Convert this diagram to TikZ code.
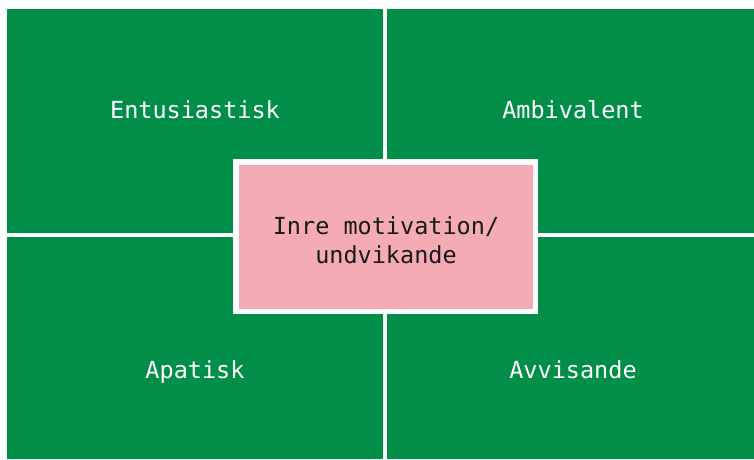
\documentclass[tikz,border=0pt]{standalone}
\usepackage{fontspec}
\setmainfont{DejaVu Sans Mono}
\definecolor{qgreen}{RGB}{0,142,72}
\definecolor{qpink}{RGB}{245,171,180}
\begin{document}
\begin{tikzpicture}[x=1pt,y=1pt,
  quad/.style={fill=qgreen,draw=none},
  qlabel/.style={text=white,font=\fontsize{23.5}{28.3}\selectfont,anchor=base,inner sep=0pt},
  centerbox/.style={fill=qpink,draw=white,line width=5.3pt},
  clabel/.style={text=black!90,font=\fontsize{23.5}{28.3}\selectfont,align=center,inner sep=0pt}]
\useasboundingbox (0,0) rectangle (754,459);
\fill[white] (0,0) rectangle (754,459);
% quadrants
\path[quad] (7.3,226.5) rectangle (382.5,450) coordinate (tl);
\path[quad] (386.5,226.5) rectangle (754,450) coordinate (tr);
\path[quad] (7.3,0) rectangle (382.5,222) coordinate (bl);
\path[quad] (386.5,0) rectangle (754,222) coordinate (br);
% labels
\node[qlabel] (ent) at (195,340.5) {Entusiastisk};
\node[qlabel] (amb) at (573,340.5) {Ambivalent};
\node[qlabel] (apa) at (195,80.7) {Apatisk};
\node[qlabel] (avv) at (573,80.7) {Avvisande};
% centre box
\path[centerbox] (236,147.8) rectangle (535.8,297) coordinate (cb);
\node[clabel] (inre) at (386,218.8) {Inre motivation/\\undvikande};
\end{tikzpicture}
\end{document}
